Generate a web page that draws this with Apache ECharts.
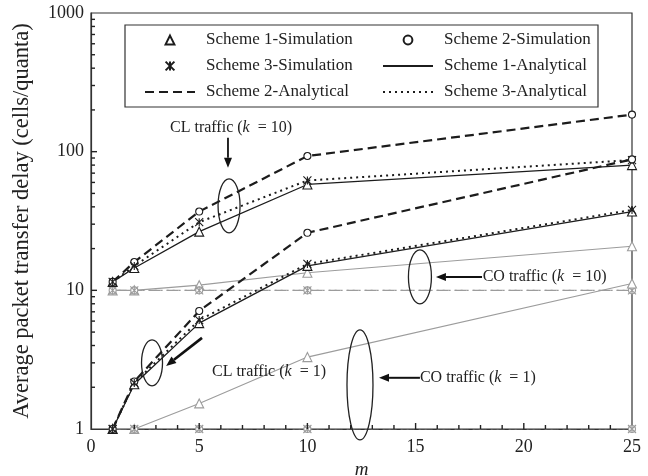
<!DOCTYPE html>
<html>
<head>
<meta charset="utf-8">
<script src="https://cdn.jsdelivr.net/npm/echarts@6/dist/echarts.min.js"></script>
<style>
  html, body { margin: 0; padding: 0; background: #fff; }
  #chart { width: 648px; height: 476px; }
</style>
</head>
<body>
<div id="chart"></div>
<script>
// Number of output ports m (x positions of the measured points)
const mValues = [1, 2, 5, 10, 25];

// CL traffic, k = 10
const clK10Scheme1 = [11.5, 14.5, 26.5, 58, 80];
const clK10Scheme2 = [11.5, 16, 37, 93, 185];
const clK10Scheme3 = [11.5, 15, 31, 62, 87];

// CL traffic, k = 1
const clK1Scheme1 = [1, 2.1, 5.8, 15, 37];
const clK1Scheme2 = [1, 2.2, 7.1, 26, 88];
const clK1Scheme3 = [1, 2.15, 6.1, 15.5, 38];

// CO traffic, k = 10
const coK10Scheme1 = [10, 10, 10.9, 13.4, 20.8];
const coK10Scheme2 = [10, 10, 10, 10, 10];
const coK10Scheme3 = [10, 10, 10, 10, 10];

// CO traffic, k = 1
const coK1Scheme1 = [1, 1, 1.53, 3.3, 11.2];
const coK1Scheme2 = [1, 1, 1, 1, 1];
const coK1Scheme3 = [1, 1, 1, 1, 1];

// Axis tick positions (ticks point into the plot)
const xMajorTicks = [5, 10, 15, 20];
const xMinorTicks = [1, 2, 3, 4, 6, 7, 8, 9, 11, 12, 13, 14, 16, 17, 18, 19, 21, 22, 23, 24];
const yMajorTicks = [10, 100];
const yMinorTicks = [2, 3, 4, 5, 6, 7, 8, 9, 20, 30, 40, 50, 60, 70, 80, 90, 200, 300, 400, 500, 600, 700, 800, 900];

const legendColumn1 = ['Scheme 1-Simulation', 'Scheme 3-Simulation', 'Scheme 2-Analytical'];
const legendColumn2 = ['Scheme 2-Simulation', 'Scheme 1-Analytical', 'Scheme 3-Analytical'];

const FONT = '"Liberation Serif", "Times New Roman", serif';
const BLACK = '#1c1c1c';
const GREY = '#9c9c9c';
const ASTERISK = 'path://M0,0L10,10M10,0L0,10M5,0L5,10';

const schemes = [
  { sim: 'Scheme 1-Simulation', ana: 'Scheme 1-Analytical', symbol: 'triangle', size: 9, dash: 'solid', width: 1.3 },
  { sim: 'Scheme 2-Simulation', ana: 'Scheme 2-Analytical', symbol: 'circle', size: 7, dash: [9, 5], width: 2.2 },
  { sim: 'Scheme 3-Simulation', ana: 'Scheme 3-Analytical', symbol: ASTERISK, size: 8, dash: [2, 4], width: 2 }
];

// Black (CL) groups come first so the legend picks up their styles
const groups = [
  { color: BLACK, z: 4, values: [clK10Scheme1, clK10Scheme2, clK10Scheme3] },
  { color: BLACK, z: 4, values: [clK1Scheme1, clK1Scheme2, clK1Scheme3] },
  { color: GREY, z: 2, values: [coK10Scheme1, coK10Scheme2, coK10Scheme3] },
  { color: GREY, z: 2, values: [coK1Scheme1, coK1Scheme2, coK1Scheme3] }
];

const series = [];
groups.forEach(function (g) {
  const grey = g.color === GREY;
  schemes.forEach(function (s, i) {
    const pts = mValues.map(function (m, j) { return [m, g.values[i][j]]; });
    series.push({
      type: 'line', name: s.ana, data: pts, z: g.z,
      symbol: 'none', silent: true,
      itemStyle: { color: g.color, opacity: 0 },
      lineStyle: {
        color: g.color,
        width: grey ? 1.1 : s.width,
        type: grey && i === 1 ? [12, 6] : s.dash
      }
    });
  });
  schemes.forEach(function (s, i) {
    const pts = mValues.map(function (m, j) { return [m, g.values[i][j]]; });
    series.push({
      type: 'line', name: s.sim, data: pts, z: g.z + 1,
      symbol: s.symbol, symbolSize: s.size, showSymbol: true, silent: true,
      lineStyle: { width: 0, opacity: 0, color: g.color },
      itemStyle: { color: i === 2 ? 'rgba(0,0,0,0)' : '#fff', borderColor: g.color, borderWidth: 1.1 }
    });
  });
});

function legendItems(names) {
  return names.map(function (n) {
    return n.indexOf('Analytical') >= 0 ? { name: n, itemStyle: { opacity: 0 } } : { name: n };
  });
}

function legendAt(left, names) {
  return {
    orient: 'vertical', left: left, top: 30, padding: 0,
    itemWidth: 50, itemHeight: 11, itemGap: 6,
    data: legendItems(names), selectedMode: false,
    textStyle: { fontFamily: FONT, fontSize: 17, color: '#222', lineHeight: 20, padding: [0, 0, 0, 6] }
  };
}

const chart = echarts.init(document.getElementById('chart'), null, { renderer: 'canvas' });

chart.setOption({
  animation: false,
  backgroundColor: '#fff',
  textStyle: { fontFamily: FONT },
  grid: {
    left: 91, right: 16, top: 13, bottom: 47,
    outerBoundsMode: 'none', containLabel: false,
    show: true, borderColor: '#333', borderWidth: 1.2
  },
  legend: [legendAt(144, legendColumn1), legendAt(382, legendColumn2)],
  xAxis: {
    type: 'value', min: 0, max: 25, interval: 5,
    name: 'm', nameLocation: 'middle', nameGap: 20,
    nameTextStyle: { fontFamily: FONT, fontStyle: 'italic', fontSize: 19, color: '#222' },
    axisLine: { lineStyle: { color: '#333', width: 1.2 } },
    axisTick: { show: false },
    axisLabel: { fontFamily: FONT, fontSize: 18, color: '#222', margin: 9 },
    splitLine: { show: false }
  },
  yAxis: {
    type: 'log', logBase: 10, min: 1, max: 1000,
    name: 'Average packet transfer delay (cells/quanta)', nameLocation: 'middle', nameGap: 57,
    nameTextStyle: { fontFamily: FONT, fontSize: 22.5, color: '#222' },
    axisLine: { lineStyle: { color: '#333', width: 1.2 } },
    axisTick: { show: false },
    axisLabel: { fontFamily: FONT, fontSize: 18, color: '#222', margin: 7, formatter: function (v) { return String(Math.round(v)); } },
    splitLine: { show: false }
  },
  series: series
});

function px(p) { return chart.convertToPixel({ gridIndex: 0 }, p); }

const graphics = [{
  type: 'rect', shape: { x: 125, y: 25, width: 473, height: 82 },
  style: { fill: 'none', stroke: '#333', lineWidth: 1.2 }, z: 10
}];

// Inward tick marks, placed through the axis scales
function addTicks(values, onY, len) {
  values.forEach(function (v) {
    const p = px(onY ? [0, v] : [v, 1]);
    graphics.push({
      type: 'line', z: 9, silent: true,
      shape: onY ? { x1: p[0], y1: p[1], x2: p[0] + len, y2: p[1] }
                 : { x1: p[0], y1: p[1], x2: p[0], y2: p[1] - len },
      style: { stroke: '#222', lineWidth: 1.4 }
    });
  });
}
addTicks(xMajorTicks, false, 6);
addTicks(xMinorTicks, false, 4);
addTicks(yMajorTicks, true, 6);
addTicks(yMinorTicks, true, 4);

// Callouts, anchored in data coordinates (m, delay)
const callouts = [
  { text: 'CL traffic ({i|k}  = 10)', at: [6.47, 149], align: 'center',
    arrow: [[6.33, 126], [6.33, 76.6]], arrowWidth: 1.8, ellipse: { at: [6.38, 40.7], rx: 11, ry: 27 } },
  { text: 'CL traffic ({i|k}  = 1)', at: [5.59, 2.58], align: 'left',
    arrow: [[5.13, 4.54], [3.47, 2.85]], arrowWidth: 2.6, ellipse: { at: [2.82, 3.0], rx: 10.5, ry: 23 } },
  { text: 'CO traffic ({i|k}  = 10)', at: [18.1, 12.5], align: 'left',
    arrow: [[18.07, 12.5], [15.94, 12.5]], arrowWidth: 2, ellipse: { at: [15.2, 12.5], rx: 11.5, ry: 27 } },
  { text: 'CO traffic ({i|k}  = 1)', at: [15.2, 2.34], align: 'left',
    arrow: [[15.2, 2.34], [13.31, 2.34]], arrowWidth: 2, ellipse: { at: [12.43, 2.08], rx: 13, ry: 55 } }
];

callouts.forEach(function (c) {
  const t = px(c.at);
  graphics.push({
    type: 'text', x: t[0], y: t[1], z: 10,
    style: {
      text: c.text, font: '16px ' + FONT, fill: '#222',
      textAlign: c.align, textVerticalAlign: 'middle',
      rich: { i: { fontFamily: FONT, fontStyle: 'italic', fontSize: 16, fill: '#222' } }
    }
  });
  const a = px(c.arrow[0]);
  const b = px(c.arrow[1]);
  const dx = b[0] - a[0], dy = b[1] - a[1];
  const len = Math.sqrt(dx * dx + dy * dy);
  const ux = dx / len, uy = dy / len;
  const headL = 10, headW = 8;
  const bx = b[0] - ux * headL, by = b[1] - uy * headL;
  graphics.push({
    type: 'line', z: 10,
    shape: { x1: a[0], y1: a[1], x2: bx, y2: by },
    style: { stroke: '#111', lineWidth: c.arrowWidth }
  });
  graphics.push({
    type: 'polygon', z: 10,
    shape: { points: [[b[0], b[1]], [bx - uy * headW / 2, by + ux * headW / 2], [bx + uy * headW / 2, by - ux * headW / 2]] },
    style: { fill: '#111' }
  });
  const e = px(c.ellipse.at);
  graphics.push({
    type: 'ellipse', z: 10,
    shape: { cx: e[0], cy: e[1], rx: c.ellipse.rx, ry: c.ellipse.ry },
    style: { fill: 'none', stroke: '#222', lineWidth: 1.3 }
  });
});

chart.setOption({ graphic: graphics });
</script>
</body>
</html>
